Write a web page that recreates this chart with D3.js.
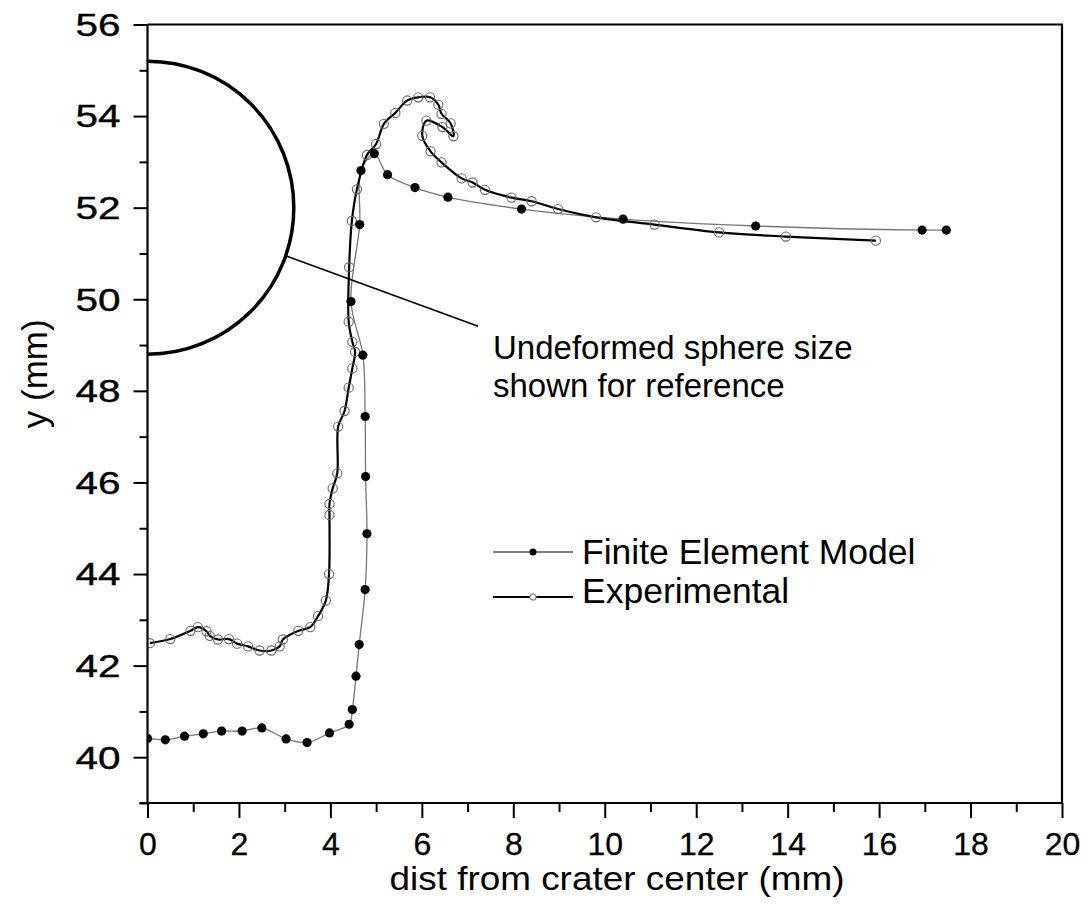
<!DOCTYPE html>
<html>
<head>
<meta charset="utf-8">
<script src="https://cdn.jsdelivr.net/npm/d3@7"></script>
<style>
  html, body { margin: 0; padding: 0; background: #fff; }
  svg { display: block; }
  text { font-family: "Liberation Sans", Arial, sans-serif; fill: #000; }
</style>
</head>
<body>
<svg id="chart" width="1092" height="924"></svg>
<script>
// ---- data ----
const femX = [0.0, 0.39, 0.81, 1.22, 1.62, 2.07, 2.50, 3.03, 3.49, 3.98, 4.41, 4.48, 4.56, 4.63, 4.76, 4.80, 4.77, 4.76, 4.71, 4.45, 4.64, 4.67, 4.96, 5.25, 5.85, 6.57, 8.18, 10.40, 13.30, 16.94, 17.47];
const femY = [40.41, 40.38, 40.46, 40.51, 40.57, 40.57, 40.64, 40.40, 40.32, 40.53, 40.72, 41.04, 41.77, 42.46, 43.66, 44.88, 46.13, 47.44, 48.78, 49.95, 51.63, 52.81, 53.18, 52.72, 52.44, 52.23, 51.97, 51.75, 51.60, 51.51, 51.51];

const expX = [0.05, 0.50, 0.94, 1.10, 1.29, 1.36, 1.54, 1.78, 1.96, 2.20, 2.45, 2.71, 2.89, 2.96, 3.30, 3.56, 3.73, 3.90, 3.97, 3.98, 3.98, 4.05, 4.15, 4.17, 4.31, 4.40, 4.48, 4.54, 4.48, 4.40, 4.41, 4.47, 4.58, 4.80, 5.00, 5.17, 5.42, 5.68, 5.92, 6.18, 6.36, 6.43, 6.63, 6.69, 6.45, 6.10, 6.01, 6.19, 6.43, 6.87, 7.11, 7.38, 7.96, 8.40, 8.98, 9.81, 11.09, 12.50, 13.96, 15.93];
const expY = [42.49, 42.58, 42.76, 42.84, 42.75, 42.65, 42.57, 42.58, 42.48, 42.42, 42.33, 42.33, 42.42, 42.57, 42.76, 42.84, 43.08, 43.42, 44.00, 45.29, 45.53, 45.87, 46.20, 47.22, 47.56, 48.07, 48.49, 48.85, 49.07, 49.51, 50.70, 51.71, 52.40, 53.15, 53.39, 53.83, 54.07, 54.34, 54.41, 54.41, 54.25, 54.05, 53.84, 53.56, 53.76, 53.90, 53.57, 53.23, 52.99, 52.64, 52.55, 52.39, 52.22, 52.14, 51.97, 51.79, 51.63, 51.46, 51.37, 51.28];

const xMajorTicks = [0, 2, 4, 6, 8, 10, 12, 14, 16, 18, 20];
const xMinorTicks = [1, 3, 5, 7, 9, 11, 13, 15, 17, 19];
const yMajorTicks = [40, 42, 44, 46, 48, 50, 52, 54, 56];
const yMinorTicks = [39, 41, 43, 45, 47, 49, 51, 53, 55];

const xLabel = "dist from crater center (mm)";
const yLabel = "y (mm)";
const seriesNames = ["Finite Element Model", "Experimental"];
const annotationLines = ["Undeformed sphere size", "shown for reference"];
const sphereCenter = [0, 52];
const sphereRadius = 3.2;
const pointerFrom = [3.02, 50.95];
const pointerTo = [7.23, 49.41];

// ---- layout ----
const svg = d3.select("#chart");
const L = 147.5, R = 1062, T = 24.5, B = 803;
const x = d3.scaleLinear().domain([0, 20]).range([L, R]);
const y = d3.scaleLinear().domain([39, 56]).range([B, T]);

svg.append("defs").append("clipPath").attr("id", "plotclip")
  .append("rect").attr("x", L).attr("y", T).attr("width", R - L).attr("height", B - T);

const plot = svg.append("g").attr("clip-path", "url(#plotclip)");

// sphere outline
plot.append("ellipse")
  .attr("cx", x(sphereCenter[0])).attr("cy", y(sphereCenter[1]))
  .attr("rx", x(sphereRadius) - x(0)).attr("ry", y(sphereCenter[1] - sphereRadius) - y(sphereCenter[1]))
  .attr("fill", "none").attr("stroke", "#000").attr("stroke-width", 3.5);

// pointer
svg.append("line")
  .attr("x1", x(pointerFrom[0])).attr("y1", y(pointerFrom[1]))
  .attr("x2", x(pointerTo[0])).attr("y2", y(pointerTo[1]))
  .attr("stroke", "#000").attr("stroke-width", 1.6);

const fem = femX.map((v, i) => [v, femY[i]]);
const exp = expX.map((v, i) => [v, expY[i]]);
const line = d3.line().x(d => x(d[0])).y(d => y(d[1])).curve(d3.curveCatmullRom.alpha(0.5));

plot.append("path").attr("d", line(fem)).attr("fill", "none")
  .attr("stroke", "#777").attr("stroke-width", 1.3);
plot.append("path").attr("d", line(exp)).attr("fill", "none")
  .attr("stroke", "#000").attr("stroke-width", 2.2);

plot.selectAll("circle.exp").data(exp).enter().append("circle")
  .attr("class", "exp").attr("cx", d => x(d[0])).attr("cy", d => y(d[1])).attr("r", 4.6)
  .attr("fill", "none").attr("stroke", "#666").attr("stroke-width", 1.1);
plot.selectAll("circle.fem").data(fem).enter().append("circle")
  .attr("class", "fem").attr("cx", d => x(d[0])).attr("cy", d => y(d[1])).attr("r", 4.6)
  .attr("fill", "#000");

// axes
function styleAxis(g) {
  g.select(".domain").remove();
  g.selectAll("line").attr("stroke", "#000").attr("stroke-width", 2);
  g.selectAll("text").attr("font-family", "'Liberation Sans', Arial, sans-serif").attr("fill", "#000");
}
svg.append("g").attr("transform", `translate(0,${B})`)
  .call(d3.axisBottom(x).tickValues(xMinorTicks).tickSize(9).tickFormat(""))
  .call(styleAxis);
svg.append("g").attr("transform", `translate(0,${B})`)
  .call(d3.axisBottom(x).tickValues(xMajorTicks).tickSize(15).tickPadding(14).tickFormat(d3.format("d")))
  .call(styleAxis)
  .selectAll("text").attr("font-size", 32).attr("dy", "0.71em")
  .attr("stroke", "#000").attr("stroke-width", 0.3);
svg.append("g").attr("transform", `translate(0,0) translate(${L},0)`)
  .call(d3.axisLeft(y).tickValues(yMinorTicks).tickSize(8).tickFormat(""))
  .call(styleAxis);
svg.append("g").attr("transform", `translate(${L},0)`)
  .call(d3.axisLeft(y).tickValues(yMajorTicks).tickSize(14).tickPadding(13).tickFormat(d3.format("d")))
  .call(styleAxis)
  .selectAll("text").attr("font-size", 31).attr("dy", "0.35em")
  .attr("textLength", 45).attr("lengthAdjust", "spacingAndGlyphs")
  .attr("stroke", "#000").attr("stroke-width", 0.4);

// frame
const frame = svg.append("g").attr("stroke", "#000").attr("stroke-width", 2.2).attr("fill", "none");
frame.append("line").attr("x1", L).attr("x2", L).attr("y1", T).attr("y2", B + 1);
frame.append("line").attr("x1", L - 8).attr("x2", R + 1).attr("y1", B).attr("y2", B);
frame.append("line").attr("x1", L).attr("x2", R + 1).attr("y1", T).attr("y2", T);
frame.append("line").attr("x1", R).attr("x2", R).attr("y1", T).attr("y2", B);

// axis titles
svg.append("text").attr("x", 617).attr("y", 890).attr("text-anchor", "middle")
  .attr("font-size", 34).attr("textLength", 455).attr("lengthAdjust", "spacingAndGlyphs").text(xLabel);
svg.append("text").attr("transform", `translate(47,${(T + B) / 2 - 40}) rotate(-90)`)
  .attr("text-anchor", "middle").attr("font-size", 35).text(yLabel);

// annotation
annotationLines.forEach((t, i) => {
  svg.append("text").attr("x", 493).attr("y", 359 + i * 38).attr("font-size", 33).text(t);
});

// legend
const legend = svg.append("g");
const legY = [552, 597];
legend.append("line").attr("x1", 493).attr("x2", 573).attr("y1", legY[0]).attr("y2", legY[0])
  .attr("stroke", "#000").attr("stroke-width", 1.2);
legend.append("circle").attr("cx", 533).attr("cy", legY[0]).attr("r", 3.5).attr("fill", "#000");
legend.append("line").attr("x1", 493).attr("x2", 573).attr("y1", legY[1]).attr("y2", legY[1])
  .attr("stroke", "#000").attr("stroke-width", 1.8);
legend.append("circle").attr("cx", 533).attr("cy", legY[1]).attr("r", 3.2).attr("fill", "#fff")
  .attr("stroke", "#666").attr("stroke-width", 1);
seriesNames.forEach((t, i) => {
  legend.append("text").attr("x", 582).attr("y", legY[i] + 12 - (i === 1 ? 6 : 0))
    .attr("font-size", 35.5).text(t);
});
</script>
</body>
</html>
